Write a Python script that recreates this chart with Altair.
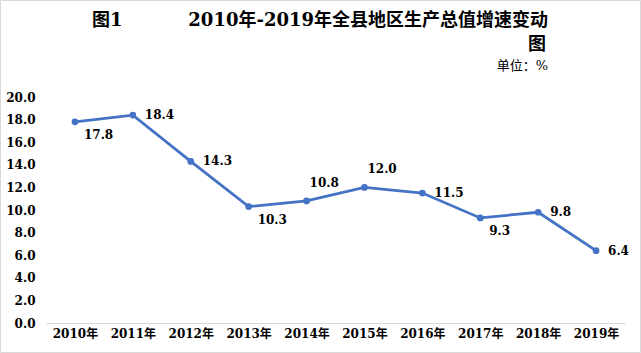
import altair as alt
import pandas as pd

years = ["2010年", "2011年", "2012年", "2013年", "2014年",
         "2015年", "2016年", "2017年", "2018年", "2019年"]
growth = [17.8, 18.4, 14.3, 10.3, 10.8, 12.0, 11.5, 9.3, 9.8, 6.4]
label_side = ["below", "right", "right", "below", "above",
              "above", "right", "below", "right", "right"]
y_ticks = [0, 2, 4, 6, 8, 10, 12, 14, 16, 18, 20]

title_tag = "图1"
title_main = "2010年-2019年全县地区生产总值增速变动"
title_tail = "图"
unit_text = "单位：%"

FONT = "'DejaVu Serif', 'Noto Sans CJK SC', serif"
LINE_COLOR = "#4472C4"

df = pd.DataFrame({"year": years, "value": growth, "side": label_side})

W, H = 579, 226

x_enc = alt.X(
    "year:N", sort=years,
    scale=alt.Scale(type="point", padding=0.5),
    axis=alt.Axis(title=None, labelAngle=0, ticks=False, domainColor="#d9d9d9",
                  domainWidth=1, labelPadding=5, labelFont=FONT, labelFontSize=12,
                  labelFontWeight="bold", labelColor="#000000", grid=False),
)
y_enc = alt.Y(
    "value:Q",
    scale=alt.Scale(domain=[0, 20], nice=False, zero=True),
    axis=alt.Axis(title=None, values=y_ticks, format=".1f", domain=False, ticks=False,
                  grid=False, labelPadding=11, labelFont=FONT, labelFontSize=12,
                  labelFontWeight="bold", labelColor="#000000"),
)

base = alt.Chart(df)
line = base.mark_line(color=LINE_COLOR, strokeWidth=2.75).encode(x=x_enc, y=y_enc)
pts = base.mark_point(color=LINE_COLOR, filled=True, opacity=1, size=45).encode(x=x_enc, y=y_enc)


def labels(side, dx, dy):
    return base.transform_filter(alt.datum.side == side).mark_text(
        align="left", baseline="middle", dx=dx, dy=dy, font=FONT, fontSize=12,
        fontWeight="bold", color="#000000"
    ).encode(x=x_enc, y=y_enc, text=alt.Text("value:Q", format=".1f"))


lab_right = labels("right", 12, 0)
lab_below = labels("below", 9, 13)
lab_above = labels("above", 3, -18)

one = alt.Data(values=[{"k": 1}])


def annot(text, x, y, align, size, weight, color="#000000"):
    return alt.Chart(one).mark_text(
        text=text, align=align, baseline="middle", font=FONT, fontSize=size,
        fontWeight=weight, color=color
    ).encode(x=alt.value(x), y=alt.value(y))


t1 = annot(title_tag, 46, -76, "left", 18, "bold")
t2 = annot(title_main, 502, -76, "right", 18, "bold")
t3 = annot(title_tail, 500, -52, "right", 18, "bold")
t4 = annot(unit_text, 502, -31, "right", 13, "normal")

border = alt.Chart(one).mark_rect(filled=False, stroke="#d9d9d9", strokeWidth=1).encode(
    x=alt.value(-45.5), x2=alt.value(594.5), y=alt.value(-96.5), y2=alt.value(255.5)
)

chart = alt.layer(border, line, pts, lab_right, lab_below, lab_above, t1, t2, t3, t4).properties(
    width=W, height=H,
    autosize=alt.AutoSizeParams(type="none"),
    padding={"left": 46, "top": 97, "right": 16, "bottom": 30},
    background="#ffffff",
).configure_view(strokeWidth=0)

chart.save("out.html", embed_options={"renderer": "svg", "actions": False})
